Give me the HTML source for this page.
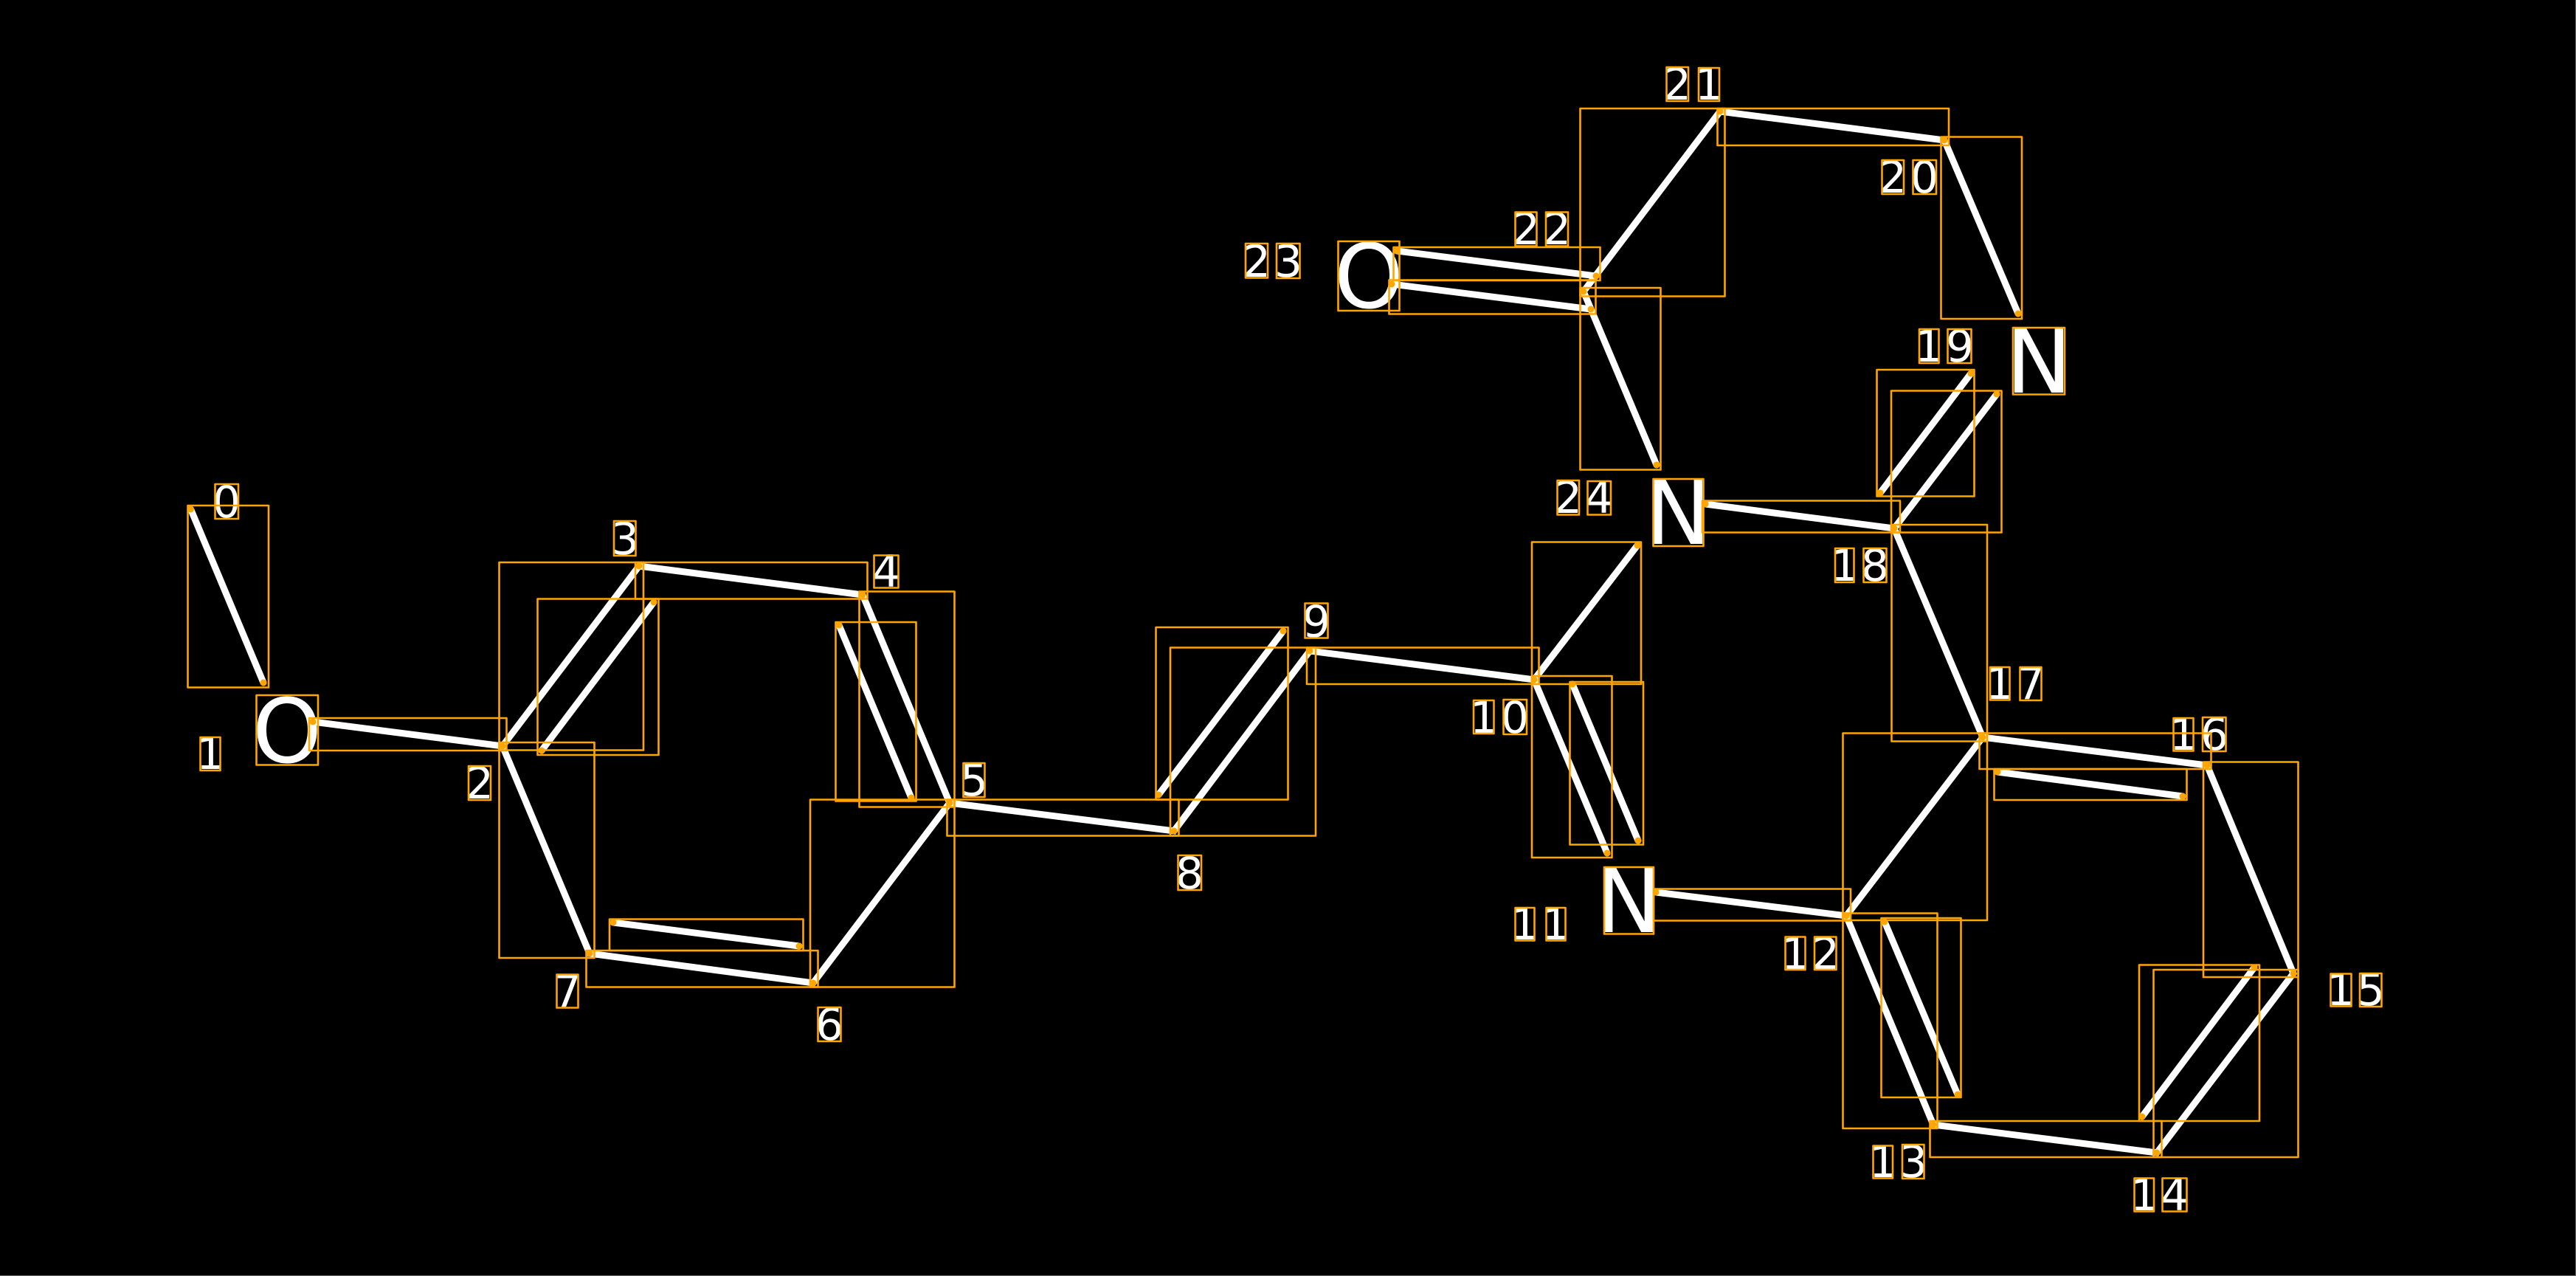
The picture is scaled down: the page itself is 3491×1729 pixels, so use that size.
<!DOCTYPE html>
<html><head><meta charset="utf-8">
<style>html,body{margin:0;padding:0;background:#000}svg{display:block}text{font-family:"DejaVu Sans",sans-serif;fill:#fff;text-anchor:middle}</style>
</head><body>
<svg xmlns="http://www.w3.org/2000/svg" width="3491" height="1729" viewBox="0 0 3491 1729">
<rect width="3491" height="1729" fill="#000"/>
<rect x="3490" y="0" width="1" height="1729" fill="#666"/>
<rect x="0" y="1728" width="3491" height="1" fill="#666"/>
<g font-size="60">
<text x="307" y="701">0</text><text x="285" y="1042">1</text><text x="650" y="1082">2</text><text x="847" y="751">3</text><text x="1201" y="795">4</text><text x="1320" y="1078">5</text><text x="1124" y="1409">6</text><text x="769" y="1364">7</text><text x="1612" y="1204">8</text><text x="1784" y="863">9</text>
<text x="2011" y="993">1</text><text x="2053" y="993">0</text>
<text x="2066" y="1273">1</text><text x="2108" y="1273">1</text>
<text x="2433" y="1313">1</text><text x="2474" y="1313">2</text>
<text x="2552" y="1595">1</text><text x="2593" y="1595">3</text>
<text x="2906" y="1640">1</text><text x="2947" y="1640">4</text>
<text x="3172" y="1362">1</text><text x="3213" y="1362">5</text>
<text x="2959" y="1016">1</text><text x="3001" y="1016">6</text>
<text x="2710" y="947">1</text><text x="2752" y="947">7</text>
<text x="2500" y="787">1</text><text x="2541" y="787">8</text>
<text x="2614" y="490">1</text><text x="2656" y="490">9</text>
<text x="2565" y="261">2</text><text x="2608" y="261">0</text>
<text x="2273" y="135">2</text><text x="2316" y="135">1</text>
<text x="2068" y="331">2</text><text x="2110" y="331">2</text>
<text x="1703" y="375">2</text><text x="1746" y="375">3</text>
<text x="2125" y="695">2</text><text x="2167" y="695">4</text>
</g>
<g font-size="120">
<text x="389" y="1033">O</text><text x="1855" y="417">O</text>
<text x="2207" y="1263">N</text><text x="2274" y="737">N</text><text x="2763" y="532">N</text>
</g>
<g stroke="#fff" stroke-width="9" stroke-linecap="round" fill="none">
<path d="M258.5 690L357 925M424 978L681 1011L866 767L1169 806L1287 1088L1102 1332L799 1292L681 1011M734 1017L886 816M1137 847L1235 1081M1083 1282L831 1250M1287 1088L1591 1126L1775 882L2079 921L2219 739M1570 1077L1739 855M2079 921L2178 1156M2131 927L2220 1139M2244 1209L2502 1241L2687 999L2991 1037L3108 1319L2923 1562L2620 1524L2502 1241M2707 1046L2958 1079M3055 1311L2903 1513M2554 1249L2653 1483M2687 999L2567 716L2311 683M2567 716L2706 534M2548 668L2671 506M2735 425L2635 190L2331 151L2146 395L2245 630M1893 340L2163 374M1886 385L2156 419"/>
</g>
<g stroke="#ffa500" stroke-width="2.6" fill="none" stroke-linejoin="round">
<rect x="254.5" y="685" width="109.5" height="246.5"/>
<rect x="291.5" y="656" width="31.5" height="47"/>
<rect x="347.5" y="942" width="83.5" height="94.5"/>
<rect x="271.5" y="999" width="27" height="45"/>
<rect x="419" y="973" width="267.5" height="44"/>
<rect x="635" y="1038" width="30" height="46"/>
<rect x="832" y="706" width="29.5" height="47"/>
<rect x="676.5" y="762" width="195.5" height="254.5"/>
<rect x="728.5" y="811.5" width="164" height="211.5"/>
<rect x="861" y="762" width="314.5" height="49.5"/>
<rect x="1164.5" y="801.5" width="129" height="292"/>
<rect x="1132.5" y="843" width="109" height="242.5"/>
<rect x="1098" y="1083.5" width="195.5" height="254"/>
<rect x="794.5" y="1288" width="314" height="49.5"/>
<rect x="826" y="1245.5" width="262.5" height="42.5"/>
<rect x="676.5" y="1006" width="129" height="292"/>
<rect x="1283.5" y="1083.5" width="314" height="49"/>
<rect x="1184.5" y="752.5" width="33" height="44"/>
<rect x="1305.5" y="1034" width="29" height="46"/>
<rect x="1108.5" y="1365" width="31" height="46"/>
<rect x="754.5" y="1320.5" width="29" height="45"/>
<rect x="1586" y="877.5" width="197" height="255"/>
<rect x="1566.5" y="850" width="179" height="233.5"/>
<rect x="1771" y="877.5" width="314.5" height="49.5"/>
<rect x="2076" y="734.5" width="148" height="192.5"/>
<rect x="2076" y="916" width="108.5" height="246"/>
<rect x="2127.5" y="924" width="99.5" height="220.5"/>
<rect x="2241" y="1204.5" width="267" height="43"/>
<rect x="1768.5" y="817.5" width="31" height="47"/>
<rect x="1596.5" y="1159" width="31.5" height="47"/>
<rect x="1997" y="949" width="27.5" height="45"/>
<rect x="2037.5" y="948" width="31.5" height="47"/>
<rect x="2053.5" y="1230" width="26" height="44.5"/>
<rect x="2095.5" y="1230" width="26" height="44.5"/>
<rect x="2174" y="1175" width="67" height="90.5"/>
<rect x="2240.5" y="649" width="68" height="91"/>
<rect x="2728" y="444" width="70" height="90.5"/>
<rect x="1813.5" y="327" width="83" height="94"/>
<rect x="2327.5" y="147" width="313.5" height="50"/>
<rect x="2141.5" y="147" width="196" height="254.5"/>
<rect x="2630.5" y="185.5" width="109.5" height="246.5"/>
<rect x="1888.5" y="335" width="280" height="45"/>
<rect x="1882.5" y="379.5" width="280" height="46"/>
<rect x="2141.5" y="390" width="109" height="246.5"/>
<rect x="2307" y="678.5" width="268" height="43"/>
<rect x="2543.5" y="501" width="132" height="171.5"/>
<rect x="2563" y="529.5" width="149.5" height="192"/>
<rect x="2258.5" y="91" width="29.5" height="46"/>
<rect x="2302" y="92" width="28" height="45"/>
<rect x="2053.5" y="287.5" width="29" height="46"/>
<rect x="2095" y="287.5" width="30" height="46"/>
<rect x="1688" y="330" width="30" height="46.5"/>
<rect x="1730" y="330" width="31.5" height="47"/>
<rect x="2550.5" y="217" width="29.5" height="46"/>
<rect x="2592.5" y="217" width="31.5" height="46"/>
<rect x="2601" y="446" width="26.5" height="46"/>
<rect x="2639.5" y="446" width="32" height="46"/>
<rect x="2110.5" y="651" width="29.5" height="46.5"/>
<rect x="2151.5" y="652" width="31.5" height="45.5"/>
<rect x="2487" y="743" width="25.5" height="46"/>
<rect x="2525.5" y="743" width="31" height="46"/>
<rect x="2563.5" y="711" width="129.5" height="293.5"/>
<rect x="2497.5" y="993.5" width="195.5" height="253.5"/>
<rect x="2682.5" y="993.5" width="314" height="48.5"/>
<rect x="2702.5" y="1042" width="261" height="42"/>
<rect x="2986" y="1032.5" width="128.5" height="291.5"/>
<rect x="2918.5" y="1314" width="196" height="254"/>
<rect x="2899" y="1307.5" width="163" height="211.5"/>
<rect x="2615.5" y="1519" width="314" height="49"/>
<rect x="2497.5" y="1237.5" width="128" height="291.5"/>
<rect x="2549.5" y="1244" width="108" height="243"/>
<rect x="2697" y="904" width="26.5" height="44.5"/>
<rect x="2737.5" y="904" width="29" height="45"/>
<rect x="2945.5" y="973" width="27" height="44.5"/>
<rect x="2985" y="972" width="31.5" height="46"/>
<rect x="3158.5" y="1319.5" width="28" height="44"/>
<rect x="3198" y="1319" width="29.5" height="45"/>
<rect x="2419.5" y="1269.5" width="27" height="44.5"/>
<rect x="2459" y="1269.5" width="29.5" height="44.5"/>
<rect x="2538.5" y="1552.5" width="26.5" height="44"/>
<rect x="2578" y="1551" width="29.5" height="46"/>
<rect x="2892.5" y="1596.5" width="26.5" height="45"/>
<rect x="2930.5" y="1596.5" width="33" height="45"/>
</g>
<g fill="#ffa500">
<circle cx="258.5" cy="690" r="4.5"/><circle cx="357" cy="925" r="4.5"/><circle cx="424" cy="978" r="4.5"/><circle cx="681" cy="1011" r="4.5"/><circle cx="866" cy="767" r="4.5"/><circle cx="734" cy="1017" r="4.5"/><circle cx="886" cy="816" r="4.5"/><circle cx="1169" cy="806" r="4.5"/><circle cx="1287" cy="1088" r="4.5"/><circle cx="1137" cy="847" r="4.5"/><circle cx="1235" cy="1081" r="4.5"/><circle cx="1102" cy="1332" r="4.5"/><circle cx="799" cy="1292" r="4.5"/><circle cx="1083" cy="1282" r="4.5"/><circle cx="831" cy="1250" r="4.5"/><circle cx="1591" cy="1126" r="4.5"/><circle cx="1775" cy="882" r="4.5"/><circle cx="1570" cy="1077" r="4.5"/><circle cx="1739" cy="855" r="4.5"/><circle cx="2079" cy="921" r="4.5"/><circle cx="2219" cy="739" r="4.5"/><circle cx="2178" cy="1156" r="4.5"/><circle cx="2131" cy="927" r="4.5"/><circle cx="2220" cy="1139" r="4.5"/><circle cx="2244" cy="1209" r="4.5"/><circle cx="2502" cy="1241" r="4.5"/><circle cx="2687" cy="999" r="4.5"/><circle cx="2991" cy="1037" r="4.5"/><circle cx="3108" cy="1319" r="4.5"/><circle cx="2923" cy="1562" r="4.5"/><circle cx="2620" cy="1524" r="4.5"/><circle cx="2707" cy="1046" r="4.5"/><circle cx="2958" cy="1079" r="4.5"/><circle cx="3055" cy="1311" r="4.5"/><circle cx="2903" cy="1513" r="4.5"/><circle cx="2554" cy="1249" r="4.5"/><circle cx="2653" cy="1483" r="4.5"/><circle cx="2567" cy="716" r="4.5"/><circle cx="2311" cy="683" r="4.5"/><circle cx="2706" cy="534" r="4.5"/><circle cx="2548" cy="668" r="4.5"/><circle cx="2671" cy="506" r="4.5"/><circle cx="2735" cy="425" r="4.5"/><circle cx="2635" cy="190" r="4.5"/><circle cx="2331" cy="151" r="4.5"/><circle cx="2146" cy="395" r="4.5"/><circle cx="2245" cy="630" r="4.5"/><circle cx="1893" cy="340" r="4.5"/><circle cx="2163" cy="374" r="4.5"/><circle cx="1886" cy="385" r="4.5"/><circle cx="2156" cy="419" r="4.5"/>
</g>
</svg>
</body></html>
